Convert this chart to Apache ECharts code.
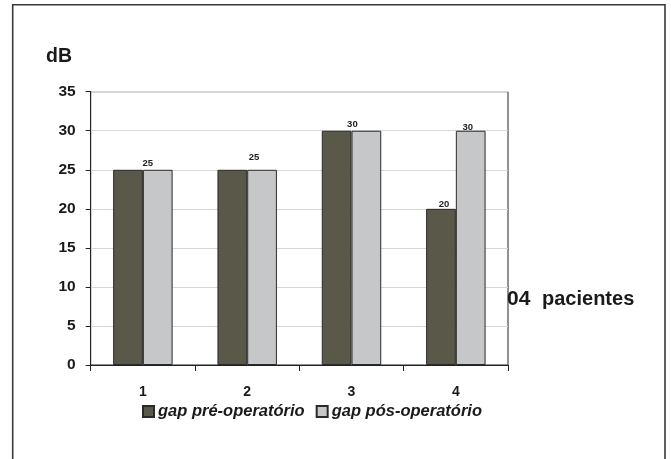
<!DOCTYPE html>
<html>
<head>
<meta charset="utf-8">
<script src="https://cdn.jsdelivr.net/npm/echarts@6/dist/echarts.min.js"></script>
<style>
  html, body { margin: 0; padding: 0; background: #fff; }
  #chart { width: 671px; height: 459px; }
</style>
</head>
<body>
<div id="chart"></div>
<script>
// Patients (x axis) and air-bone gap before / after surgery, in dB
const categories = ['1', '2', '3', '4'];
const gapPre = [25, 25, 30, 20];
const gapPos = [25, 25, 30, 30];
const yTicks = { min: 0, max: 35, step: 5 };
const seriesNames = ['gap pré-operatório', 'gap pós-operatório'];
const xAxisTitle = ['04', 'pacientes'];

const FONT = '"Liberation Sans", Arial, Helvetica, sans-serif';

// Value-label placement nudges per bar (x, y in px)
const posLabelOffsets = [[-10, 1], [-8, -5], [-14, 1], [-3, 4]];
const preLabelOffsets = [null, null, null, [3, 2.5]];

const labelBase = {
  position: 'top',
  distance: 2,
  fontFamily: FONT,
  fontSize: 9.5,
  fontWeight: 'bold',
  color: '#222'
};

function withLabels(values, offsets) {
  return values.map((v, i) => {
    const off = offsets[i];
    if (!off) return { value: v, label: { show: false } };
    return { value: v, label: Object.assign({ show: true, offset: off }, labelBase) };
  });
}

const chart = echarts.init(document.getElementById('chart'), null, { renderer: 'canvas' });

chart.setOption({
  animation: false,
  backgroundColor: '#ffffff',
  grid: {
    left: 90.7, right: 163, top: 91.7, bottom: 94,
    show: true, borderColor: '#222', borderWidth: 1
  },
  legend: {
    data: seriesNames,
    left: 137, top: 398,
    itemWidth: 11, itemHeight: 11, itemGap: 11,
    icon: 'rect',
    textStyle: { fontFamily: FONT, fontSize: 16.5, fontWeight: 'bold', fontStyle: 'italic', color: '#1a1a1a', padding: [0, 0, 0, -1] }
  },
  xAxis: {
    type: 'category',
    data: categories,
    axisLine: { lineStyle: { color: '#222', width: 1 } },
    axisTick: { show: true, length: 6, lineStyle: { color: '#222' } },
    axisLabel: { margin: 20, fontFamily: FONT, fontSize: 14, fontWeight: 'bold', color: '#1a1a1a' }
  },
  yAxis: {
    type: 'value',
    min: yTicks.min, max: yTicks.max, interval: yTicks.step,
    axisLine: { show: true, lineStyle: { color: '#222', width: 1 } },
    axisTick: { show: true, length: 5, lineStyle: { color: '#222' } },
    axisLabel: { margin: 15, fontFamily: FONT, fontSize: 15.5, fontWeight: 'bold', color: '#1a1a1a' },
    splitLine: { show: true, lineStyle: { color: '#d6d6d6', width: 1 } }
  },
  series: [
    {
      name: seriesNames[0],
      type: 'bar',
      data: withLabels(gapPre, preLabelOffsets),
      barGap: '0%',
      barCategoryGap: '43%',
      itemStyle: { color: '#5a5848', borderColor: '#2a2a2a', borderWidth: 1 }
    },
    {
      name: seriesNames[1],
      type: 'bar',
      data: withLabels(gapPos, posLabelOffsets),
      barGap: '0%',
      barCategoryGap: '43%',
      itemStyle: { color: '#c6c7c9', borderColor: '#2a2a2a', borderWidth: 1 }
    }
  ],
  graphic: [
    {
      type: 'rect',
      shape: { x: 12.7, y: 4.7, width: 652.3, height: 470 },
      style: { fill: 'none', stroke: '#3a3a3a', lineWidth: 1.6 },
      silent: true
    },
    {
      type: 'text',
      x: 46, y: 57,
      style: { text: 'dB', fontFamily: FONT, fontSize: 19.5, fontWeight: 'bold', fill: '#1a1a1a', verticalAlign: 'middle', align: 'left' }
    },
    {
      type: 'text',
      x: 507, y: 299.5,
      style: {
        text: '{n|' + xAxisTitle[0] + '}{t|' + xAxisTitle[1] + '}',
        fontFamily: FONT, fontSize: 20, fontWeight: 'bold', fill: '#1a1a1a',
        verticalAlign: 'middle', align: 'left',
        rich: {
          n: { width: 35, fontFamily: FONT, fontSize: 21, fontWeight: 'bold', fill: '#1a1a1a' },
          t: { fontFamily: FONT, fontSize: 20, fontWeight: 'bold', fill: '#1a1a1a' }
        }
      }
    }
  ]
});
</script>
</body>
</html>
